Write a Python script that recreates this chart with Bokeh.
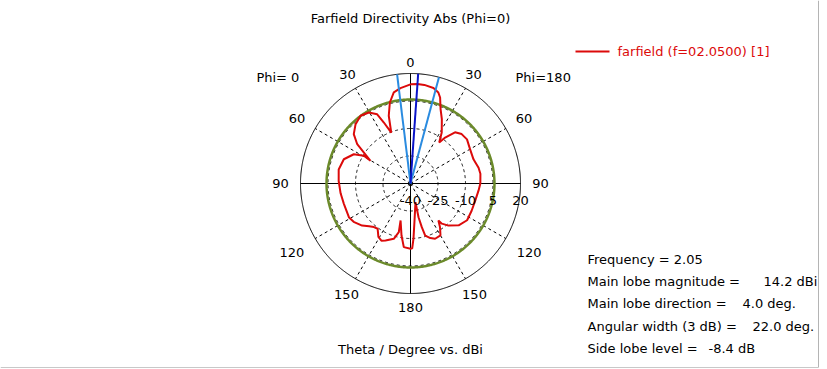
import numpy as np
from bokeh.plotting import figure
from bokeh.models import Range1d
from bokeh.core.properties import value
from bokeh.embed import file_html
from bokeh.resources import INLINE

# ---------------- data ----------------
title_text = "Farfield Directivity Abs (Phi=0)"
xlabel_text = "Theta / Degree vs. dBi"
legend_text = "farfield (f=02.0500) [1]"
phi_left = "Phi=  0"
phi_right = "Phi=180"

# theta (deg, clockwise from top; right half = Phi 180, left half = Phi 0) and directivity (dBi)
theta_deg = [0, 4, 8, 13.5, 17, 19, 22, 26, 31.5, 35, 37, 41, 46, 52, 60, 69, 77, 82, 90,
             96, 105, 114, 123, 131, 138, 142, 143, 146, 150, 156, 160, 164.2, 165.5, 166.6,
             165, 173.8, 176.9, 178.5, 180, 186, 189.8, 195, 193.5, 196.8, 203.7, 207, 211,
             216, 220, 224, 229, 236, 241, 253, 262, 272, 281, 290, 297.3, 300.7, 299.6,
             303.6, 306.4, 311, 317.2, 323.6, 329.6, 334.3, 336.4, 339.3, 342.2, 345.7,
             349.6, 354, 360]
dbi = [14.1, 14.4, 14.3, 13.6, 11.9, 9.6, 3.8, -1.0, -7.4, -12.7, -8.6, -3.0, -1.2, -0.9,
       -2.5, -3.2, -1.9, -1.5, -1.9, -2.7, -3.5, -3.5, -3.2, -5.2, -9.1, -12.2, -14.7,
       -11.2, -7.3, -7.0, -8.3, -10.5, -15.4, -21.1, -29.5, -19.7, -9.9, -4.6, -4.4, -5.1,
       -11.2, -19.1, -12.7, -8.5, -6.1, -5.0, -6.0, -9.5, -9.0, -7.5, -5.0, -2.6, -1.7,
       -2.0, -1.5, -0.8, -0.1, -1.3, -5.2, -10.4, -14.9, -9.5, -3.9, 1.0, 4.1, 5.9, 4.9,
       1.9, -3.7, -10.3, -1.2, 5.6, 10.5, 12.3, 14.1]

radial_ticks = [-40, -25, -10, 5, 20]
radial_tick_labels = ["-40", "-25", "-10", "5", "20"]
angle_ticks = [0, 30, 60, 90, 120, 150, 180]
angle_tick_labels = ["0", "30", "60", "90", "120", "150", "180"]

main_lobe_mag = 14.2
main_lobe_dir = 4.0
beam_width = 22.0
side_lobe_level = -8.4

info_labels = ["Frequency = 2.05", "Main lobe magnitude =", "Main lobe direction =",
               "Angular width (3 dB) =", "Side lobe level ="]
info_values = ["", "14.2 dBi", "4.0 deg.", "22.0 deg.", "-8.4 dB"]

# ---------------- layout (pixels) ----------------
W, H = 827, 369
CX, CY = 410, 183          # centre of polar plot on the page
R_PX = 110                 # outer ring radius in pixels
r_min, r_max = radial_ticks[0], radial_ticks[-1]
S = (r_max - r_min) / R_PX  # data units per pixel

def X(px):
    return (px - CX) * S

def Y(py):
    return (CY - py) * S

FONT = value("DejaVu Sans")
RED = "#dc0a0a"

p = figure(width=W, height=H, output_backend="svg", toolbar_location=None,
           x_axis_type=None, y_axis_type=None, min_border=0,
           x_range=Range1d(X(0), X(W)), y_range=Range1d(Y(H), Y(0)))
p.outline_line_color = None
p.background_fill_color = "white"
p.border_fill_color = "white"

R = r_max - r_min
t = np.linspace(0, 2 * np.pi, 721)

# dashed rings
for rt in radial_ticks[1:-1]:
    rr = rt - r_min
    p.line(rr * np.sin(t), rr * np.cos(t), line_color="black", line_width=1, line_dash="3 3")
# dashed radial spokes
for a in [30, 60, 120, 150, 210, 240, 300, 330]:
    ar = np.radians(a)
    p.line([0, R * np.sin(ar)], [0, R * np.cos(ar)], line_color="black", line_width=1, line_dash="3 3")
# solid axes
p.line([0, 0], [-R, R], line_color="black", line_width=1)
p.line([-R, R], [0, 0], line_color="black", line_width=1)
# outer ring
p.line(R * np.sin(t), R * np.cos(t), line_color="black", line_width=1)

# side lobe level ring
sl = main_lobe_mag + side_lobe_level - r_min
p.line(sl * np.sin(t), sl * np.cos(t), line_color="#6b8a2a", line_width=2.5)

# pattern
th = np.radians(np.array(theta_deg))
rr = np.clip(np.array(dbi) - r_min, 0, None)
p.line(rr * np.sin(th), rr * np.cos(th), line_color=RED, line_width=2)

# beam width lines and main lobe direction
for a, col in [(main_lobe_dir - beam_width / 2, "#2a8be0"), (main_lobe_dir + beam_width / 2, "#2a8be0"),
               (main_lobe_dir, "#0a14c8")]:
    ar = np.radians(a)
    p.line([0, R * np.sin(ar)], [0, R * np.cos(ar)], line_color=col, line_width=2)

# angle labels
lab_r_px = [121, 126, 131, 130, 137, 128, 124]
ax, ay, at = [], [], []
for a, lbl, rp in zip(angle_ticks, angle_tick_labels, lab_r_px):
    for sgn in ([1] if a in (0, 180) else [1, -1]):
        ar = np.radians(a * sgn)
        ax.append(rp * S * np.sin(ar)); ay.append(rp * S * np.cos(ar)); at.append(lbl)
p.text(ax, ay, text=at, text_font=FONT, text_font_size="13px", text_color="black",
       text_align="center", text_baseline="middle")

# radial labels
rx = [rt - r_min for rt in radial_ticks]
p.text(rx, [Y(200)] * len(rx), text=radial_tick_labels, text_font=FONT, text_font_size="13px",
       text_color="black", text_align="center", text_baseline="middle")

# phi labels
p.text([X(303)], [Y(77)], text=[phi_left], text_font=FONT,
       text_font_size="13px", text_color="black", text_align="right", text_baseline="middle")
p.text([X(515)], [Y(77)], text=[phi_right], text_font=FONT,
       text_font_size="13px", text_color="black", text_align="left", text_baseline="middle")

# title and axis caption
p.text([X(410)], [Y(18)], text=[title_text], text_font=FONT, text_font_size="13px",
       text_color="black", text_align="center", text_baseline="middle")
p.text([X(410)], [Y(349)], text=[xlabel_text], text_font=FONT, text_font_size="13px",
       text_color="black", text_align="center", text_baseline="middle")

# legend
p.line([X(575), X(609)], [Y(51), Y(51)], line_color=RED, line_width=2)
p.text([X(617)], [Y(51)], text=[legend_text], text_font=FONT, text_font_size="13px",
       text_color=RED, text_align="left", text_baseline="middle")

# info block
info_y = [258.5 + 22.4 * i for i in range(len(info_labels))]
value_x = [0, 763, 742, 752, 708]
p.text([X(587)] * len(info_labels), [Y(v) for v in info_y], text=info_labels, text_font=FONT,
       text_font_size="13px", text_color="black", text_align="left", text_baseline="middle")
vx, vy, vt = [], [], []
for xv, yv, tv in zip(value_x, info_y, info_values):
    if tv:
        vx.append(X(xv)); vy.append(Y(yv)); vt.append(tv)
p.text(vx, vy, text=vt, text_font=FONT, text_font_size="13px", text_color="black",
       text_align="left", text_baseline="middle")

# window frame lines
p.line([X(818), X(818)], [Y(0), Y(367)], line_color="#b4b4b4", line_width=1)
p.line([X(0), X(818)], [Y(367), Y(367)], line_color="#c8c8c8", line_width=1)

open("out.html", "w").write(file_html(p, INLINE))
